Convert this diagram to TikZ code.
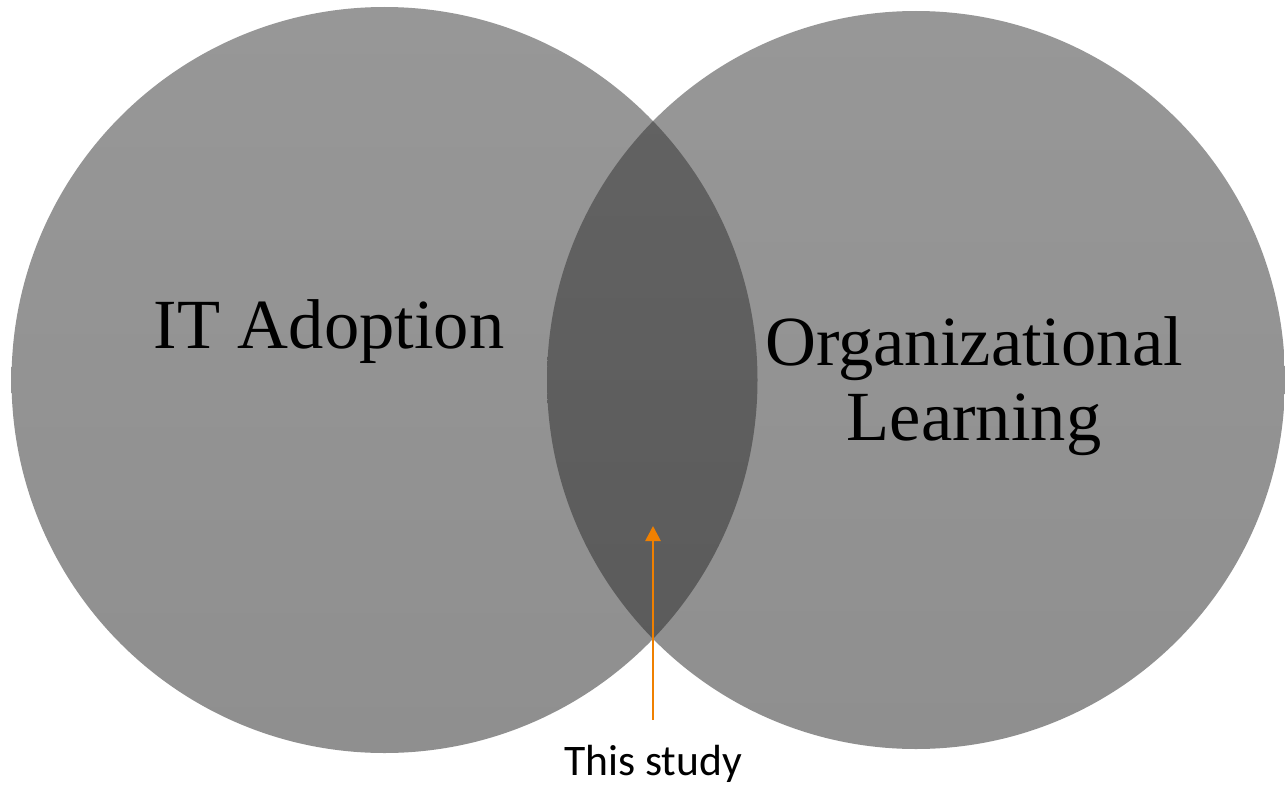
\documentclass[tikz,border=0pt]{standalone}
\usepackage{fontspec}
\setmainfont{Liberation Serif}
\newfontfamily\studyfont{Carlito}
\usepackage{tikz}
\usetikzlibrary{arrows.meta, positioning}
\definecolor{discTop}{RGB}{151,151,151}
\definecolor{discBot}{RGB}{143,143,143}
\definecolor{overlapTop}{RGB}{99,99,99}
\definecolor{overlapBot}{RGB}{90,90,90}
\definecolor{studyOrange}{RGB}{240,128,0}
\tikzstyle{disc} = [top color = discTop, bottom color = discBot, draw = none]
\tikzstyle{overlap} = [top color = overlapTop, bottom color = overlapBot,
  draw = none]
\tikzstyle{topic} = [font = \fontsize{35.25}{37.5}\selectfont, align = center,
  inner sep = 0]
\tikzstyle{pointer} = [
  draw = studyOrange, line width = 1.35pt,
  -{Triangle[length = 7.5pt, width = 7.5pt]}
]

\begin{document}
\begin{tikzpicture}[x = 0.5pt, y = 0.5pt]
      \useasboundingbox (0, 0) rectangle (1285, 784);
      \path [disc] (384.5, 404) circle (373);
      \path [disc] (916, 404) circle (369);
      \begin{scope}
        \clip (384.5, 404) circle (373);
        \path [overlap] (916, 404) circle (369);
      \end{scope}

      \node [topic, anchor = base] (adoption) at (329, 436) {IT Adoption};
      \node [topic] (learning) at (974, 398) {Organizational\\Learning};
      \node [anchor = base, inner sep = 0,
        font = \studyfont\fontsize{21.8}{24}\selectfont] (study) at (653, 9)
        {This study};

      \coordinate (tail) at (653, 64);
      \coordinate (tip) at (653, 258);
      \draw [pointer] (tail) -- (tip);
    \end{tikzpicture}
\end{document}
